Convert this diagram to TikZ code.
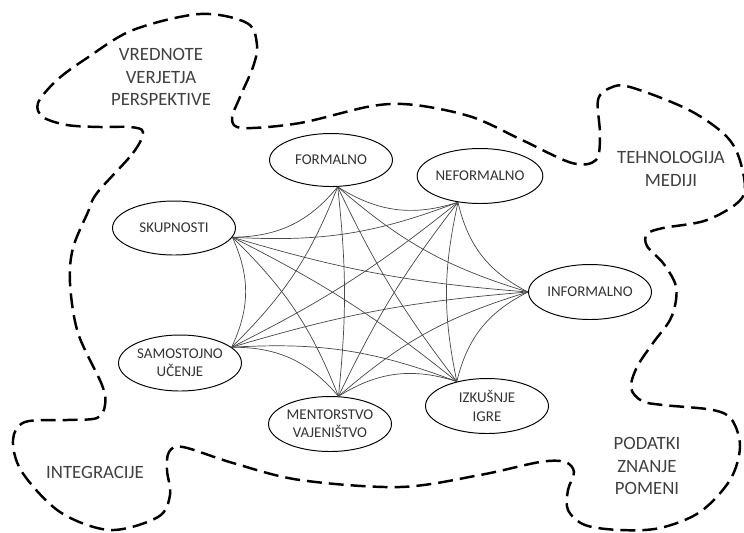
\documentclass[tikz,border=0pt]{standalone}
\usepackage{fontspec}
\setmainfont{Carlito}
\usetikzlibrary{shapes.geometric}
\begin{document}
\begin{tikzpicture}[x=0.02cm,y=-0.02cm,
  oval/.style={ellipse,draw=black,line width=0.55pt,inner sep=0pt,
    minimum width=2.46cm,minimum height=1.1cm,align=center,
    font=\fontsize{8.5}{10.4}\selectfont,text=black!80},
  biglabel/.style={align=center,font=\fontsize{10.7}{12.8}\selectfont,text=black!75},
  blob/.style={line width=1.4pt,dash pattern=on 8.5pt off 4pt,line cap=butt},
  edge/.style={line width=0.4pt,draw=black!72}]
\useasboundingbox (0,0) rectangle (744,532);

% dashed outline
\draw[blob] plot[smooth cycle,tension=0.55] coordinates {
(97,193) (133,153) (143,132) (130,127) (100,127) (67,125) (43,117) (38,103)
(57,80) (87,58) (133,30) (200,14) (247,23) (257,45) (253,67) (240,97) (232,119)
(243,128) (300,123) (372,106) (415,105) (472,117) (522,140) (572,163) (596,160)
(600,135) (598,100) (610,88) (630,87) (689,110) (728,138) (742,168) (742,198)
(707,220) (663,228) (647,234) (647,246) (663,263) (675,283) (676,300) (670,320)
(653,343) (637,367) (631,388) (642,401) (663,405) (713,410) (732,420) (740,447)
(730,480) (700,512) (660,528) (620,530) (585,525) (568,510) (568,490) (574,472)
(565,462) (540,462) (480,475) (400,487) (300,480) (233,463) (183,447) (169,452)
(167,470) (170,495) (158,517) (110,530) (60,512) (22,472) (13,440) (25,422)
(67,420) (97,418) (105,405) (102,385) (78,333) (70,283) (73,248) (88,212)};

% region labels
\node[biglabel] (vr) at (161,77) {VREDNOTE\\VERJETJA\\PERSPEKTIVE};
\node[biglabel] (te) at (671,169) {TEHNOLOGIJA\\MEDIJI};
\node[biglabel] (po) at (647,466) {PODATKI\\ZNANJE\\POMENI};
\node[biglabel] (in) at (95,472) {INTEGRACIJE};

% nodes
\node[oval,minimum height=1.06cm] (F) at (331,160) {FORMALNO};
\node[oval] (N) at (480,176) {NEFORMALNO};
\node[oval,minimum height=1.08cm] (S) at (174,228) {SKUPNOSTI};
\node[oval] (I) at (590,292) {INFORMALNO};
\node[oval,minimum height=1.12cm] (SA) at (180,363) {SAMOSTOJNO\\UČENJE};
\node[oval] (M) at (330,424) {MENTORSTVO\\VAJENIŠTVO};
\node[oval] (IZ) at (487,406) {IZKUŠNJE\\IGRE};

% connection points
\coordinate (pS) at (S.-9);
\coordinate (pF) at (F.-76);
\coordinate (pN) at (N.-130);
\coordinate (pI) at (I.180);
\coordinate (pIZ) at (IZ.141);
\coordinate (pM) at (M.73);
\coordinate (pSA) at (SA.17);

% edges (clockwise order S,F,N,I,IZ,M,SA), bowing towards centre
\foreach \a/\b in {S/F,F/N,N/I,I/IZ,IZ/M,M/SA,SA/S}
  \draw[edge] (p\a) to[bend right=25] (p\b);
\foreach \a/\b in {S/N,F/I,N/IZ,I/M,IZ/SA,M/S,SA/F}
  \draw[edge] (p\a) to[bend right=12] (p\b);
\foreach \a/\b in {S/I,F/IZ,N/M,I/SA,IZ/S,M/F,SA/N}
  \draw[edge] (p\a) to[bend right=6] (p\b);
\end{tikzpicture}
\end{document}
